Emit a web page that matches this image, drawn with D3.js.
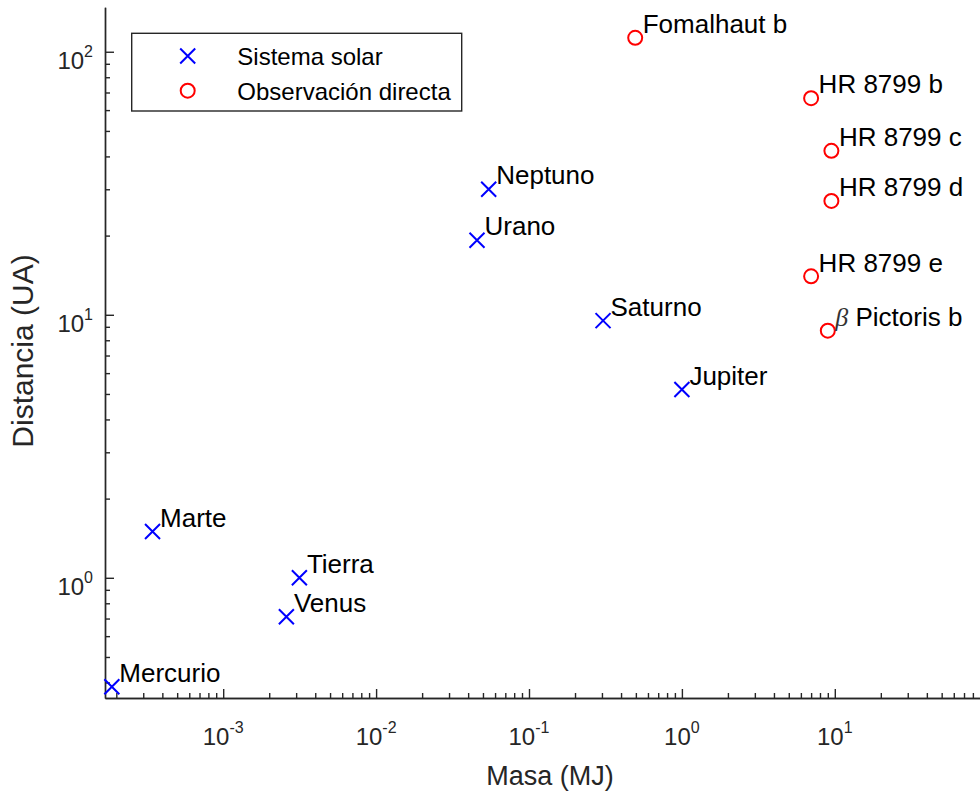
<!DOCTYPE html>
<html>
<head>
<meta charset="utf-8">
<script src="https://cdn.jsdelivr.net/npm/d3@7"></script>
<style>
  html, body { margin: 0; padding: 0; background: #fff; }
  svg { display: block; font-family: "Liberation Sans", Arial, Helvetica, sans-serif; }
</style>
</head>
<body>
<svg id="chart" width="980" height="794"></svg>
<script>
// Solar-system planets: mass in Jupiter masses, orbital distance in AU
const solarNames = ["Mercurio", "Venus", "Tierra", "Marte", "Jupiter", "Saturno", "Urano", "Neptuno"];
const solarMass  = [0.000187, 0.00259, 0.00315, 0.000345, 1.0, 0.305, 0.0457, 0.0545];
const solarDist  = [0.385, 0.711, 1.0, 1.5, 5.2, 9.5, 19.2, 30.0];

// Directly imaged exoplanets
const directNames = ["Fomalhaut b", "HR 8799 b", "HR 8799 c", "HR 8799 d", "HR 8799 e", "β Pictoris b"];
const directMass  = [0.495, 7.0, 9.5, 9.5, 7.0, 9.0];
const directDist  = [113, 66.6, 42, 27.1, 14.0, 8.7];

// Axis ticks (powers of ten) and labels
const xTickExp = [-3, -2, -1, 0, 1];
const yTickExp = [0, 1, 2];
const legendLabels = ["Sistema solar", "Observación directa"];
const xLabel = "Masa (MJ)";
const yLabel = "Distancia (UA)";

const svg = d3.select("#chart");
const axisColor = "#262626";

const plot = { left: 105, right: 987.7, top: 7.3, bottom: 698 };
const x = d3.scaleLog().domain([Math.pow(10, -3.773), 100]).range([plot.left, plot.right]);
const y = d3.scaleLog().domain([Math.pow(10, -0.457), Math.pow(10, 2.169)]).range([plot.bottom, plot.top]);

// minor tick values: 2..9 x 10^k inside the domain
function minorTicks(scale, kMin, kMax) {
  const [d0, d1] = scale.domain();
  const out = [];
  for (let k = kMin; k <= kMax; k++) {
    for (let m = 2; m <= 9; m++) {
      const v = m * Math.pow(10, k);
      if (v >= d0 && v <= d1) out.push(v);
    }
  }
  return out;
}

const xMajor = xTickExp.map(e => Math.pow(10, e)).concat([100]);
const yMajor = yTickExp.map(e => Math.pow(10, e));

function styleAxis(g) {
  g.select(".domain").attr("stroke", axisColor).attr("stroke-width", 1.4);
  g.selectAll(".tick line").attr("stroke", axisColor).attr("stroke-width", 1.4);
  g.selectAll(".tick text").remove();
}

// x axis (ticks pointing inward)
svg.append("g")
  .attr("transform", `translate(0,${plot.bottom})`)
  .call(d3.axisBottom(x).tickValues(minorTicks(x, -4, 1)).tickSize(-5).tickSizeOuter(0).tickFormat(""))
  .call(styleAxis);
svg.append("g")
  .attr("transform", `translate(0,${plot.bottom})`)
  .call(d3.axisBottom(x).tickValues(xMajor).tickSize(-9).tickSizeOuter(0).tickFormat(""))
  .call(styleAxis);

// y axis
svg.append("g")
  .attr("transform", `translate(${plot.left},0)`)
  .call(d3.axisLeft(y).tickValues(minorTicks(y, -1, 2)).tickSize(-5).tickSizeOuter(0).tickFormat(""))
  .call(styleAxis);
svg.append("g")
  .attr("transform", `translate(${plot.left},0)`)
  .call(d3.axisLeft(y).tickValues(yMajor).tickSize(-9).tickSizeOuter(0).tickFormat(""))
  .call(styleAxis);

// tick labels as 10^n
function powerLabel(sel, e) {
  sel.append("tspan").text("10");
  sel.append("tspan").attr("dy", -12).attr("font-size", 16).text(String(e));
}
xTickExp.forEach(e => {
  const t = svg.append("text")
    .attr("x", x(Math.pow(10, e)))
    .attr("y", 745)
    .attr("text-anchor", "middle")
    .attr("font-size", 24)
    .attr("fill", axisColor);
  powerLabel(t, e);
});
yTickExp.forEach(e => {
  const t = svg.append("text")
    .attr("x", 93)
    .attr("y", y(Math.pow(10, e)) + 17.6)
    .attr("text-anchor", "end")
    .attr("font-size", 24)
    .attr("fill", axisColor);
  powerLabel(t, e);
});

// axis titles
svg.append("text")
  .attr("x", 550).attr("y", 785)
  .attr("text-anchor", "middle")
  .attr("font-size", 27)
  .attr("fill", axisColor)
  .text(xLabel);
svg.append("text")
  .attr("transform", `translate(33,351) rotate(-90)`)
  .attr("text-anchor", "middle")
  .attr("font-size", 30)
  .attr("fill", axisColor)
  .text(yLabel);

// markers
const xr = 7.5;
function crossPath(cx, cy) {
  return `M${cx - xr},${cy - xr}L${cx + xr},${cy + xr}M${cx - xr},${cy + xr}L${cx + xr},${cy - xr}`;
}

const solar = solarNames.map((n, i) => ({ name: n, m: solarMass[i], d: solarDist[i] }));
const direct = directNames.map((n, i) => ({ name: n, m: directMass[i], d: directDist[i] }));

svg.append("g").selectAll("path").data(solar).join("path")
  .attr("d", p => crossPath(x(p.m), y(p.d)))
  .attr("stroke", "#0000ff")
  .attr("stroke-width", 2)
  .attr("fill", "none");

svg.append("g").selectAll("circle").data(direct).join("circle")
  .attr("cx", p => x(p.m))
  .attr("cy", p => y(p.d))
  .attr("r", 7)
  .attr("stroke", "#ff0000")
  .attr("stroke-width", 2)
  .attr("fill", "none");

// point labels
function addLabel(p) {
  const t = svg.append("text")
    .attr("x", x(p.m) + 7.5)
    .attr("y", y(p.d) - 4.8)
    .attr("font-size", 26)
    .attr("fill", "#000");
  if (p.name.startsWith("β")) {
    t.append("tspan")
      .attr("font-family", "'Liberation Serif', 'DejaVu Serif', serif")
      .attr("font-style", "italic")
      .attr("fill", "#333")
      .text("β");
    t.append("tspan").text(p.name.slice(1));
  } else {
    t.text(p.name);
  }
}
solar.forEach(addLabel);
direct.forEach(addLabel);

// legend
const leg = svg.append("g");
leg.append("rect")
  .attr("x", 131.7).attr("y", 33.3)
  .attr("width", 330).attr("height", 77.7)
  .attr("fill", "#fff")
  .attr("stroke", axisColor)
  .attr("stroke-width", 1.4);
const legY = [56, 90.7];
leg.append("path")
  .attr("d", crossPath(187.7, legY[0]))
  .attr("stroke", "#0000ff").attr("stroke-width", 2).attr("fill", "none");
leg.append("circle")
  .attr("cx", 187.7).attr("cy", legY[1]).attr("r", 7)
  .attr("stroke", "#ff0000").attr("stroke-width", 2).attr("fill", "none");
legendLabels.forEach((l, i) => {
  leg.append("text")
    .attr("x", 237.3).attr("y", legY[i] + 9)
    .attr("font-size", 24)
    .attr("fill", "#000")
    .text(l);
});
</script>
</body>
</html>
